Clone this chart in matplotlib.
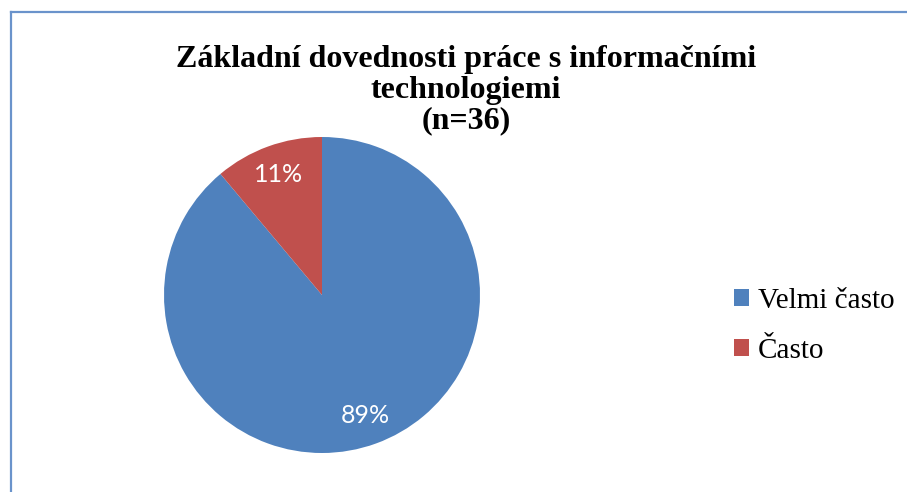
import matplotlib
matplotlib.use("Agg")
import matplotlib.pyplot as plt
from matplotlib.patches import Patch
from matplotlib.lines import Line2D

categories = ["Velmi často", "Často"]
counts = [32, 4]
colors = ["#4F81BD", "#C0504D"]
title = "Základní dovednosti práce s informačními\ntechnologiemi\n(n=36)"

W, H = 907, 492
fig = plt.figure(figsize=(W / 100, H / 100), dpi=100)

# pie axes: center (322, 295) px, radius 158 px
cx, cy, r = 322, 295, 158
ax = fig.add_axes([(cx - r) / W, (H - cy - r) / H, 2 * r / W, 2 * r / H])
wedges, texts, autotexts = ax.pie(
    counts, colors=colors, startangle=90, counterclock=False,
    autopct=lambda p: f"{p:.0f}%", pctdistance=0.81,
    wedgeprops=dict(linewidth=0),
    textprops=dict(color="white", fontsize=18, family="Lato"),
)
ax.set_xlim(-1, 1)
ax.set_ylim(-1, 1)
ax.set_aspect("equal")

# title
fig.text(466 / W, 1 - 45 / H, title, ha="center", va="top",
         family="Liberation Serif", fontweight="bold", fontsize=23,
         linespacing=1.08)

# legend
handles = [Patch(facecolor=c, edgecolor="none") for c in colors]
fig.legend(handles, categories, loc="center left",
           bbox_to_anchor=(734 / W, 1 - 326 / H), frameon=False,
           prop=dict(family="Liberation Serif", size=21),
           handlelength=0.52, handleheight=0.52, handletextpad=0.3,
           labelspacing=0.8, borderpad=0, borderaxespad=0)

# chart border (left and top visible)
bc = "#6A93CB"
fig.add_artist(Line2D([10.5 / W, 10.5 / W], [0, 1 - 11.5 / H], color=bc, lw=1.6,
                      transform=fig.transFigure))
fig.add_artist(Line2D([10.5 / W, 1], [1 - 11.5 / H, 1 - 11.5 / H], color=bc, lw=1.6,
                      transform=fig.transFigure))

fig.savefig("out.png", dpi=100)
